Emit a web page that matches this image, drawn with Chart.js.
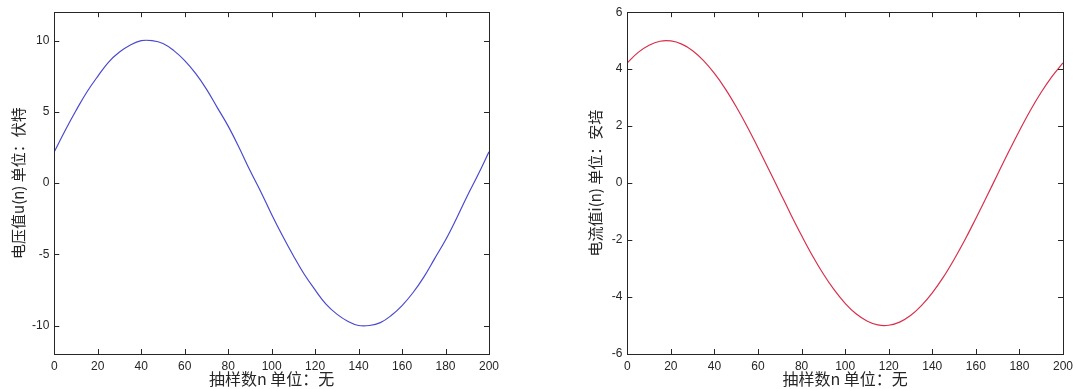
<!DOCTYPE html>
<html>
<head>
<meta charset="utf-8">
<script src="https://cdn.jsdelivr.net/npm/chart.js@4/dist/chart.umd.min.js"></script>
<style>
  body { margin: 0; background: #fff; width: 1074px; height: 389px; overflow: hidden; position: relative; }
  .box { position: absolute; top: 0; height: 389px; }
</style>
</head>
<body>
<div class="box" style="left:0; width:504px;"><canvas id="uChart" width="504" height="389"></canvas></div>
<div class="box" style="left:577px; width:501px;"><canvas id="iChart" width="501" height="389"></canvas></div>
<script>
// sample index n (every 5 samples)
const samples = [0,5,10,15,20,25,30,35,40,45,50,55,60,65,70,75,80,85,90,95,100,
                 105,110,115,120,125,130,135,140,145,150,155,160,165,170,175,180,185,190,195,200];
// voltage u(n), volts
const voltage = [2.2,3.7,5.1,6.4,7.5,8.5,9.2,9.7,10.0,10.0,9.8,9.3,8.6,7.7,6.6,5.3,4.0,2.5,0.9,-0.6,-2.2,
                 -3.7,-5.1,-6.4,-7.5,-8.5,-9.2,-9.7,-10.0,-10.0,-9.8,-9.3,-8.6,-7.7,-6.6,-5.3,-4.0,-2.5,-0.9,0.6,2.2];
// current i(n), amperes
const current = [4.22,4.59,4.84,4.98,4.99,4.88,4.65,4.30,3.85,3.31,2.68,1.99,1.24,0.47,-0.31,-1.09,-1.84,-2.55,-3.19,-3.75,-4.22,
                 -4.59,-4.84,-4.98,-4.99,-4.88,-4.65,-4.30,-3.85,-3.31,-2.68,-1.99,-1.24,-0.47,0.31,1.09,1.84,2.55,3.19,3.75,4.22];

const xTicks = [0,20,40,60,80,100,120,140,160,180,200];
const uTicks = [-10,-5,0,5,10];
const iTicks = [-6,-4,-2,0,2,4,6];

const xTitle = '抽样数n 单位：无';
const uTitle = '电压值u(n) 单位：伏特';
const iTitle = '电流值i(n) 单位：安培';

const ink = '#262626';
const tickFont = { family: 'Liberation Sans, Arial, sans-serif', size: 12 };
const xTitleFont = { family: 'Noto Sans CJK SC, sans-serif', size: 16 };
const yTitleFont = { family: 'Noto Sans CJK SC, sans-serif', size: 15 };

// MATLAB style box with inward ticks
const boxPlugin = {
  id: 'matBox',
  afterDraw(chart) {
    const ctx = chart.ctx, a = chart.chartArea;
    const xs = chart.scales.x, ys = chart.scales.y;
    ctx.save();
    ctx.strokeStyle = ink;
    ctx.lineWidth = 1;
    ctx.strokeRect(Math.round(a.left) + 0.5, Math.round(a.top) + 0.5,
                   Math.round(a.right - a.left), Math.round(a.bottom - a.top));
    ctx.beginPath();
    xs.ticks.forEach(t => {
      const px = Math.round(xs.getPixelForValue(t.value)) + 0.5;
      ctx.moveTo(px, a.bottom); ctx.lineTo(px, a.bottom - 5);
      ctx.moveTo(px, a.top); ctx.lineTo(px, a.top + 5);
    });
    ys.ticks.forEach(t => {
      const py = Math.round(ys.getPixelForValue(t.value)) + 0.5;
      ctx.moveTo(a.left, py); ctx.lineTo(a.left + 5, py);
      ctx.moveTo(a.right, py); ctx.lineTo(a.right - 5, py);
    });
    ctx.stroke();
    ctx.restore();
  }
};

function makeChart(id, values, color, yMin, yMax, yTicks, yTitle, yWidth) {
  return new Chart(document.getElementById(id), {
    type: 'line',
    data: {
      datasets: [{
        data: samples.map((n, k) => ({ x: n, y: values[k] })),
        borderColor: color,
        borderWidth: 1.2,
        pointRadius: 0,
        tension: 0.4,
        fill: false
      }]
    },
    options: {
      responsive: false,
      animation: false,
      layout: { padding: { top: 11, right: 6, left: 0, bottom: 0 } },
      plugins: { legend: { display: false }, tooltip: { enabled: false } },
      scales: {
        x: {
          type: 'linear', min: 0, max: 200,
          afterBuildTicks: s => { s.ticks = xTicks.map(v => ({ value: v })); },
          afterFit: s => { s.height = 35; },
          grid: { display: false, drawTicks: false },
          border: { display: false },
          ticks: { color: ink, font: tickFont, padding: 5, maxRotation: 0, autoSkip: false },
          title: { display: true, text: xTitle, color: ink, font: xTitleFont, padding: { top: 0, bottom: 0 } }
        },
        y: {
          type: 'linear', min: yMin, max: yMax,
          afterBuildTicks: s => { s.ticks = yTicks.map(v => ({ value: v })); },
          afterFit: s => { s.width = yWidth; },
          grid: { display: false, drawTicks: false },
          border: { display: false },
          ticks: { color: ink, font: tickFont, padding: 5, autoSkip: false },
          title: { display: true, text: yTitle, color: ink, font: yTitleFont, padding: { top: 9, bottom: 0 } }
        }
      }
    },
    plugins: [boxPlugin]
  });
}

makeChart('uChart', voltage, '#4a4ad0', -12, 12, uTicks, uTitle, 54.3);
makeChart('iChart', current, '#d8304c', -6, 6, iTicks, iTitle, 50.3);
</script>
</body>
</html>
